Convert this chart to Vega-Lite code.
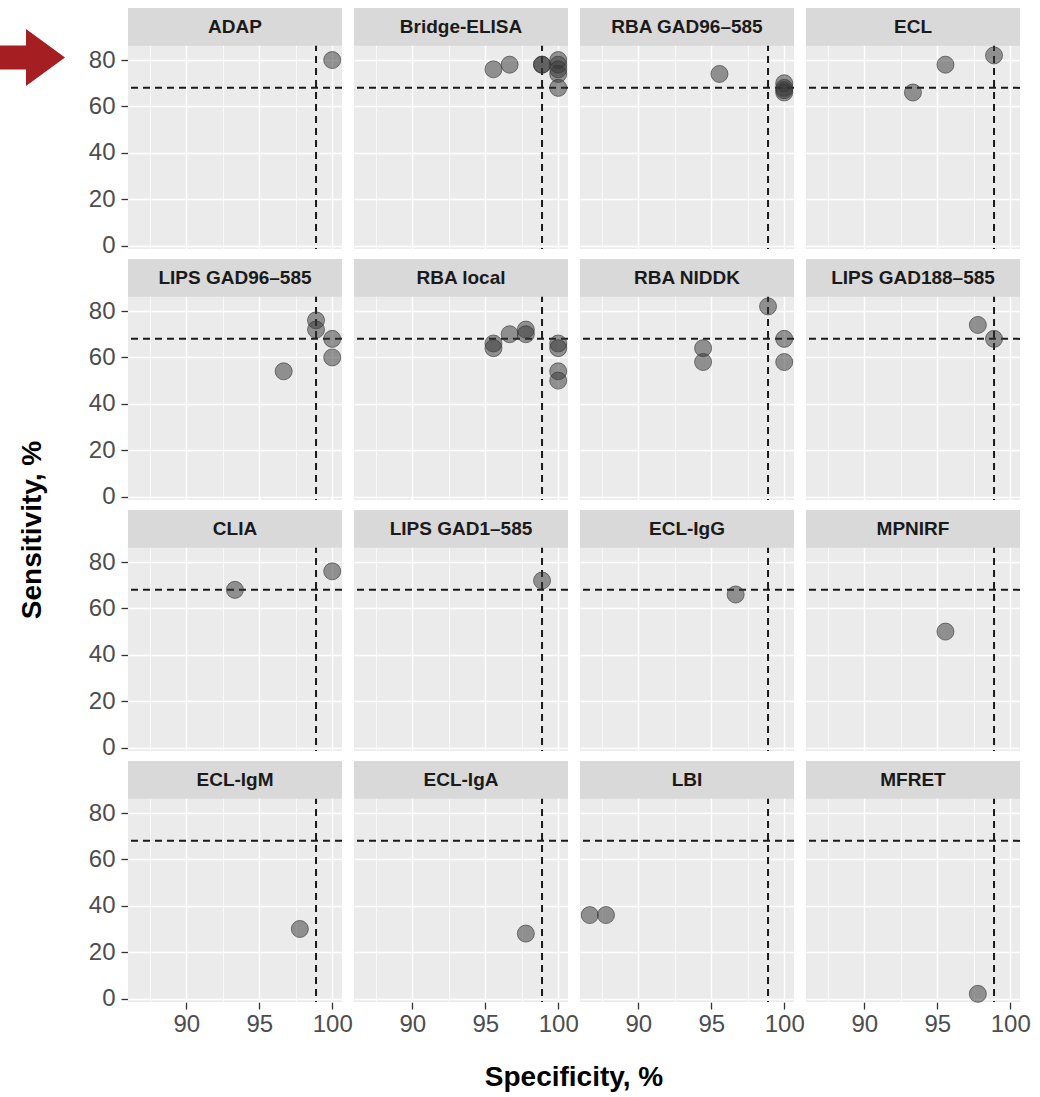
{
  "$schema": "https://vega.github.io/schema/vega-lite/v6.json",
  "padding": {"left": 0, "top": 7, "right": 5, "bottom": 5},
  "background": "white",
  "spacing": 23,
  "hconcat": [
    {
      "spacing": 0,
      "vconcat": [
        {
          "width": 65,
          "height": 99,
          "view": {"fill": null, "stroke": null},
          "data": {"values": [{"marker": "arrow"}]},
          "mark": {
            "type": "point", "filled": true, "opacity": 1,
            "color": "#A41E22", "size": 4225,
            "shape": "M-1,-0.37 L-0.2,-0.37 L-0.2,-0.877 L1,0 L-0.2,0.877 L-0.2,0.37 L-1,0.37 Z"
          },
          "encoding": {}
        },
        {
          "width": 65,
          "height": 846,
          "view": {"fill": null, "stroke": null},
          "data": {"values": [{"t": "Sensitivity, %"}]},
          "mark": {"type": "text", "angle": 270, "font": "Liberation Sans", "fontSize": 28, "fontWeight": "bold", "color": "#000000", "align": "center", "baseline": "middle"},
          "encoding": {"text": {"field": "t", "type": "nominal"}}
        }
      ]
    },
    {
      "data": {"values": [
        {"name": "ADAP", "sp": 100, "se": 80},
        {"name": "Bridge-ELISA", "sp": 95.56, "se": 76},
        {"name": "Bridge-ELISA", "sp": 96.67, "se": 78},
        {"name": "Bridge-ELISA", "sp": 98.89, "se": 78},
        {"name": "Bridge-ELISA", "sp": 98.89, "se": 78},
        {"name": "Bridge-ELISA", "sp": 100, "se": 80},
        {"name": "Bridge-ELISA", "sp": 100, "se": 78},
        {"name": "Bridge-ELISA", "sp": 100, "se": 76},
        {"name": "Bridge-ELISA", "sp": 100, "se": 74},
        {"name": "Bridge-ELISA", "sp": 100, "se": 68},
        {"name": "RBA GAD96–585", "sp": 95.56, "se": 74},
        {"name": "RBA GAD96–585", "sp": 100, "se": 70},
        {"name": "RBA GAD96–585", "sp": 100, "se": 68},
        {"name": "RBA GAD96–585", "sp": 100, "se": 67},
        {"name": "RBA GAD96–585", "sp": 100, "se": 66},
        {"name": "ECL", "sp": 93.33, "se": 66},
        {"name": "ECL", "sp": 95.56, "se": 78},
        {"name": "ECL", "sp": 98.89, "se": 82},
        {"name": "LIPS GAD96–585", "sp": 98.89, "se": 76},
        {"name": "LIPS GAD96–585", "sp": 98.89, "se": 72},
        {"name": "LIPS GAD96–585", "sp": 100, "se": 68},
        {"name": "LIPS GAD96–585", "sp": 100, "se": 60},
        {"name": "LIPS GAD96–585", "sp": 96.67, "se": 54},
        {"name": "RBA local", "sp": 95.56, "se": 66},
        {"name": "RBA local", "sp": 95.56, "se": 64},
        {"name": "RBA local", "sp": 96.67, "se": 70},
        {"name": "RBA local", "sp": 97.78, "se": 72},
        {"name": "RBA local", "sp": 97.78, "se": 70},
        {"name": "RBA local", "sp": 100, "se": 66},
        {"name": "RBA local", "sp": 100, "se": 64},
        {"name": "RBA local", "sp": 100, "se": 54},
        {"name": "RBA local", "sp": 100, "se": 50},
        {"name": "RBA NIDDK", "sp": 98.89, "se": 82},
        {"name": "RBA NIDDK", "sp": 100, "se": 68},
        {"name": "RBA NIDDK", "sp": 100, "se": 58},
        {"name": "RBA NIDDK", "sp": 94.44, "se": 64},
        {"name": "RBA NIDDK", "sp": 94.44, "se": 58},
        {"name": "LIPS GAD188–585", "sp": 97.78, "se": 74},
        {"name": "LIPS GAD188–585", "sp": 98.89, "se": 68},
        {"name": "CLIA", "sp": 93.33, "se": 68},
        {"name": "CLIA", "sp": 100, "se": 76},
        {"name": "LIPS GAD1–585", "sp": 98.89, "se": 72},
        {"name": "ECL-IgG", "sp": 96.67, "se": 66},
        {"name": "MPNIRF", "sp": 95.56, "se": 50},
        {"name": "ECL-IgM", "sp": 97.78, "se": 30},
        {"name": "ECL-IgA", "sp": 97.78, "se": 28},
        {"name": "LBI", "sp": 86.67, "se": 36},
        {"name": "LBI", "sp": 87.78, "se": 36},
        {"name": "MFRET", "sp": 97.78, "se": 2}
      ]},
      "transform": [
        {"calculate": "indexof(['ADAP', 'Bridge-ELISA', 'RBA GAD96–585', 'ECL', 'LIPS GAD96–585', 'RBA local', 'RBA NIDDK', 'LIPS GAD188–585', 'CLIA', 'LIPS GAD1–585', 'ECL-IgG', 'MPNIRF', 'ECL-IgM', 'ECL-IgA', 'LBI', 'MFRET'], datum.name)", "as": "idx"},
        {"calculate": "floor(datum.idx / 4)", "as": "r"},
        {"calculate": "datum.idx % 4", "as": "c"}
      ],
      "facet": {
        "row": {"field": "r", "type": "ordinal", "header": {"labels": false, "title": null}},
        "column": {"field": "c", "type": "ordinal", "header": {"labels": false, "title": "Specificity, %", "titleOrient": "bottom", "titlePadding": 18}}
      },
      "bounds": "flush",
      "spacing": {"row": 10, "column": 12},
      "spec": {
        "width": 214,
        "height": 241,
        "layer": [
          {
            "transform": [{"aggregate": [{"op": "count", "as": "n"}], "groupby": ["name"]}],
            "mark": {"type": "rule", "strokeDash": [7, 5], "strokeWidth": 2, "color": "#1a1a1a"},
            "encoding": {"y": {"datum": 68, "type": "quantitative"}}
          },
          {
            "transform": [{"aggregate": [{"op": "count", "as": "n"}], "groupby": ["name"]}],
            "mark": {"type": "rule", "strokeDash": [7, 5], "strokeWidth": 2, "color": "#1a1a1a"},
            "encoding": {"x": {"datum": 98.89, "type": "quantitative"}}
          },
          {
            "mark": {"type": "circle", "size": 290, "fill": "#333333", "fillOpacity": 0.5, "stroke": "#333333", "strokeOpacity": 0.6, "strokeWidth": 1},
            "encoding": {
              "x": {
                "field": "sp", "type": "quantitative",
                "scale": {"domain": [86, 100.67], "nice": false, "zero": false},
                "axis": {
                  "title": null,
                  "values": [87.5, 90, 92.5, 95, 97.5, 100],
                  "labelExpr": "datum.value % 5 === 0 ? format(datum.value, 'd') : ''",
                  "labelOverlap": false,
                  "labelPadding": 3,
                  "tickOpacity": {"condition": {"test": "datum.value % 5 === 0", "value": 1}, "value": 0},
                  "gridWidth": {"condition": {"test": "datum.value % 5 === 0", "value": 1.5}, "value": 0.7}
                }
              },
              "y": {
                "field": "se", "type": "quantitative",
                "scale": {"domain": [-1.5, 102.45], "nice": false, "zero": false},
                "axis": {
                  "title": null,
                  "values": [0, 10, 20, 30, 40, 50, 60, 70, 80],
                  "labelExpr": "datum.value % 20 === 0 ? format(datum.value, 'd') : ''",
                  "labelOverlap": false,
                  "labelPadding": 6,
                  "tickOpacity": {"condition": {"test": "datum.value % 20 === 0", "value": 1}, "value": 0},
                  "gridWidth": {"condition": {"test": "datum.value % 20 === 0", "value": 1.5}, "value": 0.7}
                }
              }
            }
          },
          {
            "transform": [{"aggregate": [{"op": "count", "as": "n"}], "groupby": ["name"]}],
            "mark": {"type": "rect", "fill": "#D9D9D9"},
            "encoding": {
              "x": {"datum": 86, "type": "quantitative"},
              "x2": {"datum": 100.67},
              "y": {"datum": 86.2, "type": "quantitative"},
              "y2": {"datum": 102.45}
            }
          },
          {
            "transform": [{"aggregate": [{"op": "count", "as": "n"}], "groupby": ["name"]}],
            "mark": {"type": "text", "font": "Liberation Sans", "fontSize": 19, "fontWeight": "bold", "color": "#1a1a1a", "baseline": "middle", "align": "center"},
            "encoding": {
              "x": {"datum": 93.335, "type": "quantitative"},
              "y": {"datum": 94.3, "type": "quantitative"},
              "text": {"field": "name", "type": "nominal"}
            }
          }
        ]
      }
    }
  ],
  "config": {
    "view": {"fill": "#EBEBEB", "stroke": null},
    "header": {"titleFont": "Liberation Sans", "titleFontSize": 28, "titleFontWeight": "bold", "titleColor": "#000000"},
    "axis": {
      "domain": false,
      "grid": true,
      "gridColor": "#FFFFFF",
      "labelFont": "Liberation Sans",
      "labelFontSize": 24,
      "labelColor": "#4D4D4D",
      "tickColor": "#333333",
      "tickSize": 7,
      "tickWidth": 1.3
    }
  }
}
